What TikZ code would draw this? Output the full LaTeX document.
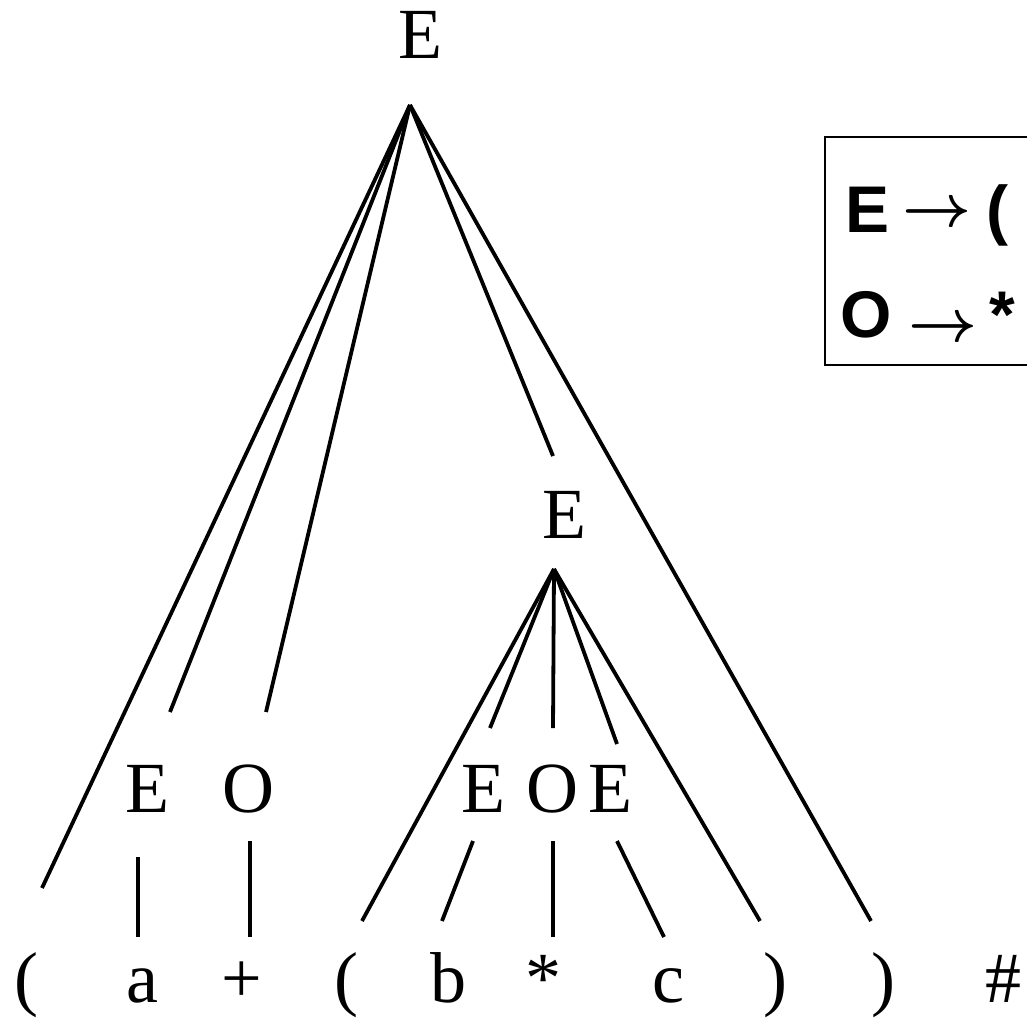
\documentclass[tikz,border=0pt]{standalone}
\usepackage{fontspec}
\setmainfont{Liberation Serif}
\newfontfamily\boxfont{Liberation Sans}
\begin{document}
\begin{tikzpicture}[x=1pt,y=-1pt,
  sym/.style={inner sep=0pt,anchor=base,font=\fontsize{72}{80}\selectfont},
  rule/.style={inner sep=0pt,anchor=base,font=\boxfont\bfseries\fontsize{66}{72}\selectfont},
  arr/.style={inner sep=0pt,font=\normalsize},
  edge/.style={line width=3.8pt},
  frame/.style={line width=1.6pt}]
\useasboundingbox (0,0) rectangle (1027,1017);
\clip (0,0) rectangle (1027,1017);
% nodes
\node[sym] (Etop) at (420,58) {E};
\node[sym] (Emid) at (564,538) {E};
\node[sym] (E1) at (147,812) {E};
\node[sym] (O1) at (248,812) {O};
\node[sym] (E2) at (483,812) {E};
\node[sym] (O2) at (552,812) {O};
\node[sym] (E3) at (610,812) {E};
\node[sym] (t1) at (26,1002) {(};
\node[sym] (t2) at (142,1002) {a};
\node[sym] (t3) at (242,1002) {+};
\node[sym] (t4) at (346,1002) {(};
\node[sym] (t5) at (448,1002) {b};
\node[sym] (t6) at (543,1002) {*};
\node[sym] (t7) at (668,1002) {c};
\node[sym] (t8) at (775,1002) {)};
\node[sym] (t9) at (883,1002) {)};
\node[sym] (t10) at (1003,1002) {\#};
% coordinates
\coordinate (T) at (410,105);
\coordinate (M) at (554,569);
\coordinate (a1) at (42,888);
\coordinate (a2) at (170,712);
\coordinate (a3) at (266,712);
\coordinate (a4) at (553,456);
\coordinate (a5) at (871,921);
\coordinate (b1) at (362,921);
\coordinate (b2) at (490,728);
\coordinate (b3) at (553,728);
\coordinate (b4) at (617,744);
\coordinate (b5) at (760,921);
\coordinate (c1s) at (138,857); \coordinate (c1e) at (138,937);
\coordinate (c2s) at (250,841); \coordinate (c2e) at (250,937);
\coordinate (c3s) at (473,841); \coordinate (c3e) at (442,921);
\coordinate (c4s) at (553,841); \coordinate (c4e) at (553,937);
\coordinate (c5s) at (617,841); \coordinate (c5e) at (664,937);
% edges
\foreach \p in {a1,a2,a3,a4,a5} \draw[edge] (T) -- (\p);
\foreach \p in {b1,b2,b3,b4,b5} \draw[edge] (M) -- (\p);
\foreach \i in {1,...,5} \draw[edge] (c\i s) -- (c\i e);
% rule box
\draw[frame] (825,137) rectangle (1060,365);
\node[rule] (rE) at (867,232) {E};
\node[arr] (rA1) at (937,215) {\scalebox{6}{\boldmath$\rightarrow$}};
\node[rule] (rP) at (997,232) {(};
\node[rule] (rO) at (866,337) {O};
\node[arr] (rA2) at (943,330) {\scalebox{6}{\boldmath$\rightarrow$}};
\node[rule] (rS) at (1002,337) {*};
\end{tikzpicture}
\end{document}
